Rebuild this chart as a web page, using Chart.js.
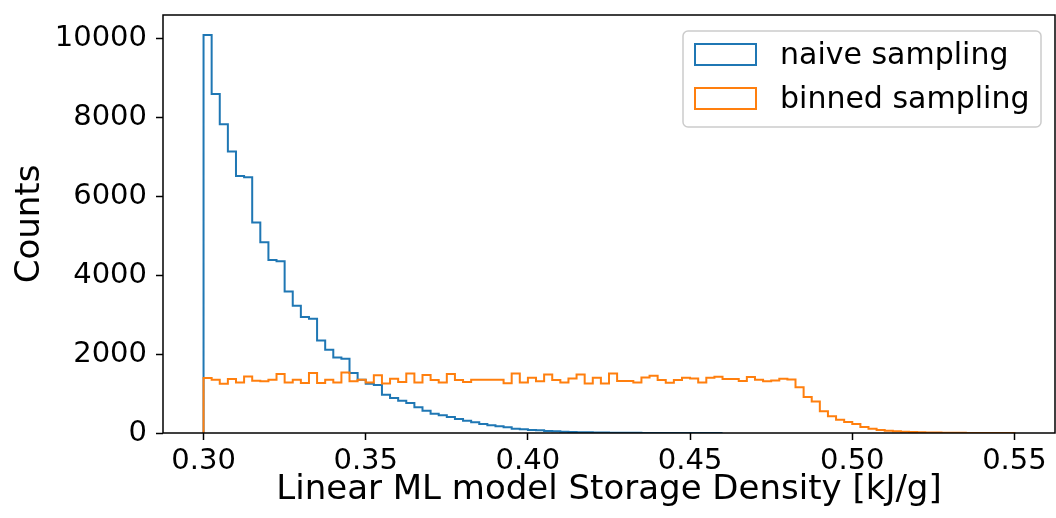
<!DOCTYPE html>
<html lang="en">
<head>
<meta charset="UTF-8">
<title>Linear ML model Storage Density</title>
<script src="https://cdn.jsdelivr.net/npm/chart.js"></script>
<style>
  html, body { margin: 0; padding: 0; background: #fff; }
  #wrap { width: 1056px; height: 518px; }
</style>
</head>
<body>
<div id="wrap"><canvas id="hist" width="1056" height="518"></canvas></div>
<script>
  // bins: both histograms use 0.0025 wide bins starting at 0.30
  const binStart = 0.30;
  const binWidth = 0.0025;

  const naiveCounts = [
    10083, 8590, 7823, 7129, 6514, 6481, 5332, 4835, 4380, 4354,
    3585, 3223, 2937, 2894, 2344, 2109, 1914, 1881, 1519, 1349,
    1245, 1215, 971, 886, 819, 760, 650, 565, 490, 447,
    405, 354, 312, 270, 228, 194, 169, 143, 110, 93,
    76, 68, 51, 42, 34, 25, 20, 16, 13, 10,
    8, 6, 5, 4, 3, 2, 2, 1, 1, 1,
    0, 1, 0, 0
  ];

  const binnedCounts = [
    1392, 1350, 1250, 1367, 1282, 1434, 1325, 1308, 1350, 1494,
    1282, 1350, 1266, 1519, 1266, 1350, 1282, 1535, 1308, 1350,
    1282, 1460, 1256, 1375, 1290, 1505, 1282, 1470, 1345, 1282,
    1495, 1345, 1290, 1350, 1350, 1350, 1350, 1262, 1505, 1282,
    1400, 1310, 1480, 1341, 1282, 1383, 1485, 1256, 1400, 1256,
    1510, 1316, 1316, 1282, 1408, 1450, 1341, 1273, 1341, 1400,
    1383, 1282, 1400, 1425, 1366, 1366, 1316, 1420, 1350, 1308,
    1333, 1375, 1358, 1156, 911, 801, 548, 422, 337, 278,
    228, 152, 110, 76, 59, 42, 34, 25, 20, 15,
    10, 8, 6, 4, 3, 2, 1, 1, 0, 1
  ];

  const seriesLabels = ['naive sampling', 'binned sampling'];
  const seriesColors = ['#1f77b4', '#ff7f0e'];

  const xTicks = [0.30, 0.35, 0.40, 0.45, 0.50, 0.55];
  const yTicks = [0, 2000, 4000, 6000, 8000, 10000];
  const xMin = 0.2875, xMax = 0.5625;
  const yMax = 10590;

  // turn bin counts into an outline: up at the first edge, steps, down at the last edge
  function stepPoints(counts) {
    const pts = [{ x: binStart, y: 0 }];
    counts.forEach((c, i) => pts.push({ x: +(binStart + i * binWidth).toFixed(4), y: c }));
    pts.push({ x: +(binStart + counts.length * binWidth).toFixed(4), y: 0 });
    return pts;
  }

  Chart.defaults.font.family = '"DejaVu Sans", sans-serif';
  Chart.defaults.color = '#000';

  // axes frame (all four spines)
  const frame = {
    id: 'frame',
    afterDatasetsDraw(chart) {
      const { ctx, chartArea: a } = chart;
      ctx.save();
      ctx.strokeStyle = '#000';
      ctx.lineWidth = 1.5;
      ctx.strokeRect(a.left, a.top, a.right - a.left, a.bottom - a.top);
      ctx.restore();
    }
  };

  // matplotlib style legend in the upper right corner
  const legendBox = {
    id: 'legendBox',
    afterDraw(chart) {
      const ctx = chart.ctx;
      ctx.save();
      ctx.beginPath();
      ctx.roundRect(683, 31, 358, 96, 5);
      ctx.fillStyle = 'rgba(255,255,255,0.8)';
      ctx.fill();
      ctx.strokeStyle = '#cccccc';
      ctx.lineWidth = 1.5;
      ctx.stroke();
      ctx.font = '30px "DejaVu Sans"';
      ctx.textBaseline = 'middle';
      seriesLabels.forEach((label, i) => {
        const y = 44 + i * 44;
        ctx.strokeStyle = seriesColors[i];
        ctx.lineWidth = 2;
        ctx.strokeRect(695, y, 61, 21);
        ctx.fillStyle = '#000';
        ctx.fillText(label, 780, y + 12);
      });
      ctx.restore();
    }
  };

  new Chart(document.getElementById('hist'), {
    type: 'line',
    data: {
      datasets: [
        {
          label: seriesLabels[0],
          data: stepPoints(naiveCounts),
          borderColor: seriesColors[0],
          borderWidth: 2,
          stepped: true,
          pointRadius: 0,
          fill: false,
          order: 1
        },
        {
          label: seriesLabels[1],
          data: stepPoints(binnedCounts),
          borderColor: seriesColors[1],
          borderWidth: 2,
          stepped: true,
          pointRadius: 0,
          fill: false,
          order: 0
        }
      ]
    },
    options: {
      responsive: false,
      animation: false,
      layout: { padding: { top: 15, right: 1, bottom: 0, left: 0 } },
      plugins: { legend: { display: false }, tooltip: { enabled: false } },
      scales: {
        x: {
          type: 'linear',
          min: xMin,
          max: xMax,
          afterBuildTicks: s => { s.ticks = xTicks.map(v => ({ value: v })); },
          afterFit: s => { s.height = 85; s.paddingLeft = 0; s.paddingRight = 0; },
          grid: { drawOnChartArea: false, drawTicks: true, tickLength: 7, tickWidth: 1.5, tickColor: '#000' },
          border: { display: false },
          ticks: {
            font: { size: 29 },
            padding: 4,
            maxRotation: 0,
            autoSkip: false,
            callback: v => Number(v).toFixed(2)
          },
          title: {
            display: true,
            text: 'Linear ML model Storage Density [kJ/g]',
            font: { size: 34 },
            padding: { top: 0, bottom: 7 }
          }
        },
        y: {
          min: 0,
          max: yMax,
          afterBuildTicks: s => { s.ticks = yTicks.map(v => ({ value: v })); },
          afterFit: s => { s.width = 163; s.paddingTop = 0; s.paddingBottom = 0; },
          grid: { drawOnChartArea: false, drawTicks: true, tickLength: 7, tickWidth: 1.5, tickColor: '#000' },
          border: { display: false },
          ticks: { font: { size: 29 }, padding: 9, callback: v => String(v) },
          title: {
            display: true,
            text: 'Counts',
            font: { size: 34 },
            padding: { top: 10, bottom: 0 }
          }
        }
      }
    },
    plugins: [frame, legendBox]
  });
</script>
</body>
</html>
